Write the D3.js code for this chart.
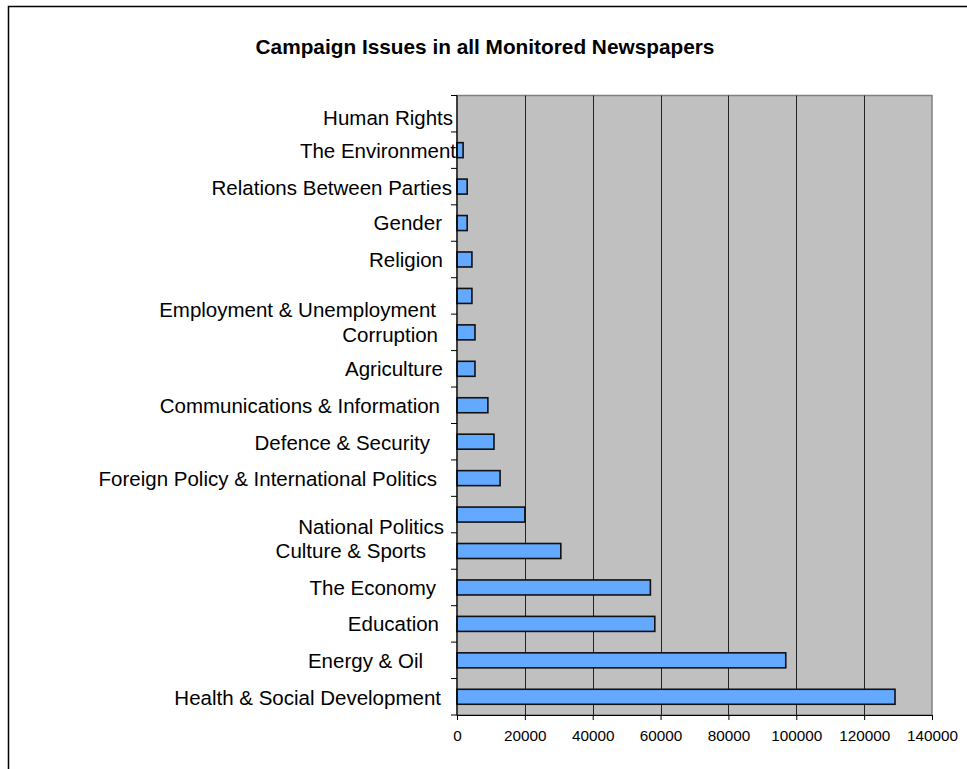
<!DOCTYPE html>
<html>
<head>
<meta charset="utf-8">
<script src="https://cdn.jsdelivr.net/npm/d3@7/dist/d3.min.js"></script>
<style>
  html, body { margin: 0; padding: 0; background: #fff; }
  svg { display: block; font-family: "Liberation Sans", Arial, sans-serif; }
</style>
</head>
<body>
<svg id="chart" width="967" height="769"></svg>
<script>
// ---- data ----
const title = "Campaign Issues in all Monitored Newspapers";
const categories = [
  "Human Rights",
  "The Environment",
  "Relations Between Parties",
  "Gender",
  "Religion",
  "Employment & Unemployment",
  "Corruption",
  "Agriculture",
  "Communications & Information",
  "Defence & Security",
  "Foreign Policy & International Politics",
  "National Politics",
  "Culture & Sports",
  "The Economy",
  "Education",
  "Energy & Oil",
  "Health & Social Development"
];
const values = [
  0, 1800, 3000, 3000, 4400, 4400, 5300, 5300, 9100, 10900, 12700,
  20000, 30600, 57000, 58300, 96900, 129100
];
const xTicks = [0, 20000, 40000, 60000, 80000, 100000, 120000, 140000];

// ---- layout / style ----
const plot = { left: 457, right: 932, top: 95.5, bottom: 715 };
// label placement quirks of the original (dx, dy in px)
const labelNudge = {
  "Human Rights": [1, 4],
  "The Environment": [4, 0],
  "Relations Between Parties": [0, 1],
  "Gender": [-10, 0],
  "Religion": [-9, 0],
  "Employment & Unemployment": [-16, 14],
  "Corruption": [-14, 2],
  "Agriculture": [-9, 0],
  "Communications & Information": [-12, 0],
  "Defence & Security": [-22, 1],
  "Foreign Policy & International Politics": [-15, 0],
  "National Politics": [-8, 12],
  "Culture & Sports": [-26, 0],
  "The Economy": [-16, 0],
  "Education": [-13, 0],
  "Energy & Oil": [-29, 0],
  "Health & Social Development": [-11, 1]
};

const svg = d3.select("#chart");

// outer frame
svg.append("rect")
  .attr("x", 8.5).attr("y", 6.5)
  .attr("width", 1000).attr("height", 1000)
  .attr("fill", "#fff").attr("stroke", "#000").attr("stroke-width", 1.5);

// title
svg.append("text")
  .attr("x", 485).attr("y", 54)
  .attr("text-anchor", "middle")
  .attr("font-weight", "bold")
  .attr("font-size", 20.8)
  .attr("fill", "#000")
  .text(title);

const x = d3.scaleLinear().domain([0, 140000]).range([plot.left, plot.right]);
const y = d3.scaleBand().domain(categories).range([plot.top, plot.bottom]).paddingInner(0).paddingOuter(0);

// plot background
svg.append("rect")
  .attr("x", plot.left).attr("y", plot.top)
  .attr("width", plot.right - plot.left).attr("height", plot.bottom - plot.top)
  .attr("fill", "#C0C0C0").attr("stroke", "#808080").attr("stroke-width", 1.5);

// gridlines
svg.append("g").selectAll("line")
  .data(xTicks.filter(d => d > 0 && d < 140000))
  .join("line")
  .attr("x1", d => Math.round(x(d)) + 0.5).attr("x2", d => Math.round(x(d)) + 0.5)
  .attr("y1", plot.top).attr("y2", plot.bottom)
  .attr("stroke", "#222").attr("stroke-width", 1);

// bars
const barH = 15;
svg.append("g").selectAll("rect")
  .data(categories.map((c, i) => ({ c, v: values[i] })))
  .join("rect")
  .attr("x", x(0))
  .attr("y", d => y(d.c) + y.bandwidth() / 2 - barH / 2)
  .attr("width", d => x(d.v) - x(0))
  .attr("height", barH)
  .attr("fill", "#63A9FF")
  .attr("stroke", d => d.v > 0 ? "#111" : "none")
  .attr("stroke-width", 1.6);

// y axis (category axis)
const yAxisG = svg.append("g");
yAxisG.append("line")
  .attr("x1", plot.left).attr("x2", plot.left)
  .attr("y1", plot.top).attr("y2", plot.bottom)
  .attr("stroke", "#000").attr("stroke-width", 1.2);
const bounds = categories.map(c => y(c)).concat([plot.bottom]);
yAxisG.selectAll("line.tick")
  .data(bounds)
  .join("line")
  .attr("class", "tick")
  .attr("x1", plot.left - 6).attr("x2", plot.left)
  .attr("y1", d => d).attr("y2", d => d)
  .attr("stroke", "#000").attr("stroke-width", 1);
yAxisG.selectAll("text")
  .data(categories)
  .join("text")
  .attr("x", d => plot.left - 5 + (labelNudge[d] ? labelNudge[d][0] : 0))
  .attr("y", d => y(d) + y.bandwidth() / 2 + (labelNudge[d] ? labelNudge[d][1] : 0))
  .attr("dy", "0.36em")
  .attr("text-anchor", "end")
  .attr("font-size", 20.5)
  .attr("fill", "#000")
  .text(d => d);

// x axis
const xAxis = d3.axisBottom(x)
  .tickValues(xTicks)
  .tickFormat(d3.format("d"))
  .tickSizeInner(5)
  .tickSizeOuter(0)
  .tickPadding(10);
const xg = svg.append("g")
  .attr("transform", `translate(0,${plot.bottom})`)
  .call(xAxis);
xg.select(".domain").attr("stroke", "#000").attr("stroke-width", 1.2);
xg.selectAll(".tick line").attr("stroke", "#000");
xg.selectAll(".tick text")
  .attr("font-size", 15.3)
  .attr("font-family", "Liberation Sans, Arial, sans-serif")
  .attr("fill", "#000");
</script>
</body>
</html>
